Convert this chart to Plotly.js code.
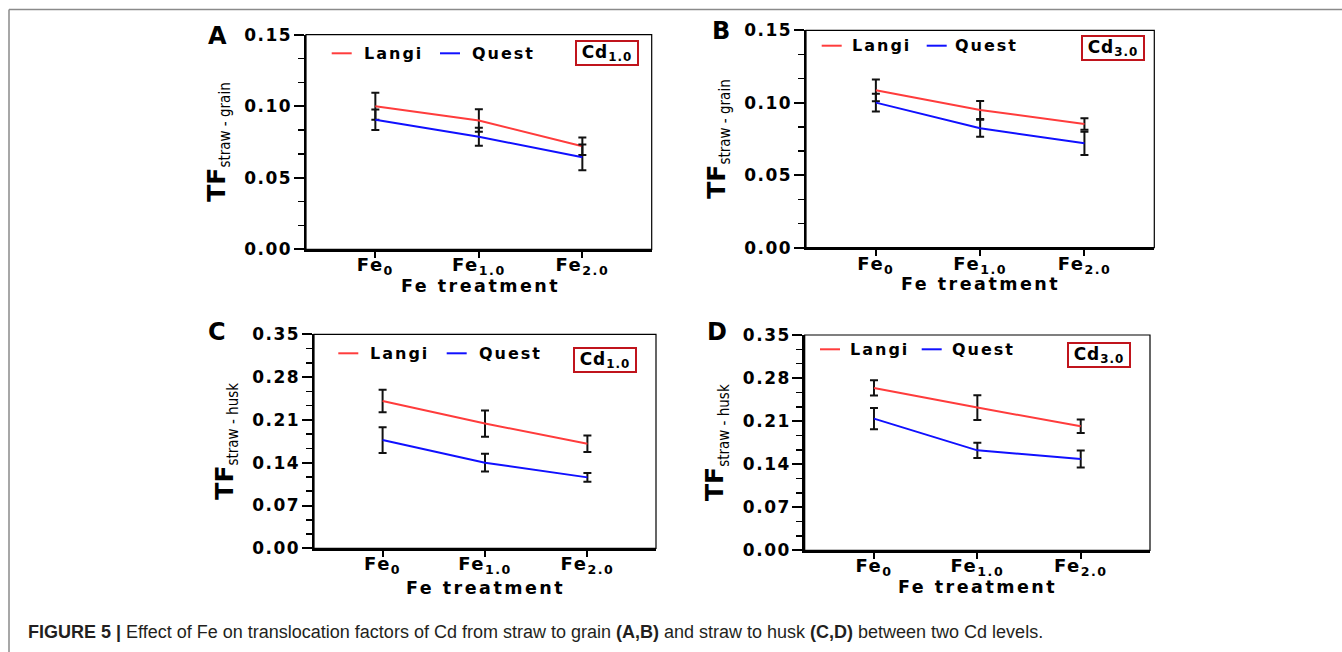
<!DOCTYPE html>
<html>
<head>
<meta charset="utf-8">
<script src="https://cdn.plot.ly/plotly-3.0.1.min.js"></script>
<style>
html,body{margin:0;padding:0;background:#fff;}
#chart{width:1342px;height:652px;}
.xtick text,.ytick text,.x2tick text,.y2tick text,.x3tick text,.y3tick text,.x4tick text,.y4tick text{letter-spacing:1.5px;}
</style>
</head>
<body>
<div id="chart"></div>
<script>
// ---- data ----
const categories = ['Fe0', 'Fe1.0', 'Fe2.0'];
const tickLabels = ['Fe<sub>0</sub>', 'Fe<sub>1.0</sub>', 'Fe<sub>2.0</sub>'];

// A: straw - grain, Cd1.0
const A_langi = [0.100, 0.090, 0.072];
const A_langi_err = [0.0095, 0.0079, 0.0061];
const A_quest = [0.0906, 0.0787, 0.0643];
const A_quest_err = [0.0072, 0.0063, 0.0090];
// B: straw - grain, Cd3.0
const B_langi = [0.1086, 0.0950, 0.0854];
const B_langi_err = [0.0075, 0.0062, 0.0040];
const B_quest = [0.1001, 0.0824, 0.0720];
const B_quest_err = [0.0062, 0.0058, 0.0080];
// C: straw - husk, Cd1.0
const C_langi = [0.241, 0.204, 0.171];
const C_langi_err = [0.0185, 0.0215, 0.0134];
const C_quest = [0.177, 0.140, 0.116];
const C_quest_err = [0.021, 0.0145, 0.0071];
// D: straw - husk, Cd3.0
const D_langi = [0.264, 0.232, 0.2015];
const D_langi_err = [0.0125, 0.020, 0.011];
const D_quest = [0.214, 0.1625, 0.1485];
const D_quest_err = [0.0173, 0.0125, 0.0138];

const seriesNames = ['Langi', 'Quest'];
const panelLetters = ['A', 'B', 'C', 'D'];
const cdLabels = ['Cd<sub>1.0</sub>', 'Cd<sub>3.0</sub>', 'Cd<sub>1.0</sub>', 'Cd<sub>3.0</sub>'];
const yTitleSubs = ['straw - grain', 'straw - grain', 'straw - husk', 'straw - husk'];
const xTitle = 'Fe treatment';
const caption = '<b>FIGURE 5 |</b> Effect of Fe on translocation factors of Cd from straw to grain <b>(A,B)</b> and straw to husk <b>(C,D)</b> between two Cd levels.';

// ---- styling ----
const W = 1342, H = 652;
const px = x => x / W;
const py = y => 1 - y / H;
const FAM = 'DejaVu Sans, Arial, sans-serif';
const RED = '#ff3c3c';
const BLUE = '#1010ff';

function trace(y, err, color, name, xa, ya) {
  return {
    type: 'scatter', mode: 'lines', name: name,
    x: categories, y: y,
    line: {color: color, width: 2},
    error_y: {type: 'data', array: err, visible: true, color: '#111', thickness: 2, width: 4},
    xaxis: xa, yaxis: ya, showlegend: false, hoverinfo: 'skip'
  };
}

const data = [
  trace(A_langi, A_langi_err, RED, seriesNames[0], 'x', 'y'),
  trace(A_quest, A_quest_err, BLUE, seriesNames[1], 'x', 'y'),
  trace(B_langi, B_langi_err, RED, seriesNames[0], 'x2', 'y2'),
  trace(B_quest, B_quest_err, BLUE, seriesNames[1], 'x2', 'y2'),
  trace(C_langi, C_langi_err, RED, seriesNames[0], 'x3', 'y3'),
  trace(C_quest, C_quest_err, BLUE, seriesNames[1], 'x3', 'y3'),
  trace(D_langi, D_langi_err, RED, seriesNames[0], 'x4', 'y4'),
  trace(D_quest, D_quest_err, BLUE, seriesNames[1], 'x4', 'y4')
];

function xax(domain, anchor) {
  return {
    domain: domain, anchor: anchor, type: 'category', range: [-0.67, 2.67],
    tickmode: 'array', tickvals: categories, ticktext: tickLabels,
    ticks: 'outside', ticklen: 6, tickwidth: 2, tickcolor: '#000',
    ticklabelstandoff: -8,
    showline: true, linewidth: 2.5, linecolor: '#000',
    showgrid: false, zeroline: false, fixedrange: true,
    tickfont: {family: FAM, size: 18, color: '#000', weight: 'bold'}
  };
}
function yax(domain, anchor, range, dtick, sub) {
  return {
    domain: domain, anchor: anchor, range: range,
    tickmode: 'linear', tick0: 0, dtick: dtick, tickformat: '.2f',
    ticks: 'outside', ticklen: 10, tickwidth: 2, tickcolor: '#000',
    ticklabelstandoff: -2,
    minor: {tick0: 0, dtick: dtick / 3, ticks: 'outside', ticklen: 6, tickwidth: 1.5, tickcolor: '#000', showgrid: false},
    showline: true, linewidth: 2.5, linecolor: '#000',
    showgrid: false, zeroline: false, fixedrange: true,
    tickfont: {family: FAM, size: 17, color: '#000', weight: 'bold'},
    title: {text: 'TF<sub><span style="font-family:\'Liberation Sans Narrow\',\'DejaVu Sans Condensed\',sans-serif;font-weight:normal;font-size:15px">' + sub + '</span></sub>',
            font: {family: FAM, size: 25, color: '#000', weight: 'bold'}, standoff: 12}
  };
}

const dom = {
  A: {x: [px(306), px(651.7)], y: [py(249.3), py(34.7)]},
  B: {x: [px(806), px(1154.3)], y: [py(247.7), py(30.3)]},
  C: {x: [px(314), px(656)], y: [py(548.3), py(334.3)]},
  D: {x: [px(804.7), px(1150)], y: [py(550.3), py(335)]}
};

const shapes = [];
const annotations = [];
// plot frames (thin top/right)
[['x', 'y'], ['x2', 'y2'], ['x3', 'y3'], ['x4', 'y4']].forEach(([xa, ya]) => {
  shapes.push({type: 'rect', xref: xa + ' domain', yref: ya + ' domain', x0: 0, x1: 1, y0: 0, y1: 1,
               line: {color: '#000', width: 1.2}, layer: 'above'});
});
// page border (grey top and left)
shapes.push({type: 'line', xref: 'paper', yref: 'paper', x0: px(9), x1: 1, y0: py(9.5), y1: py(9.5), line: {color: '#8a8a8a', width: 1.5}});
shapes.push({type: 'line', xref: 'paper', yref: 'paper', x0: px(9), x1: px(9), y0: py(9.5), y1: 0, line: {color: '#8a8a8a', width: 1.5}});

// x-axis titles
const xTitlePos = [{x: 480.8, y: 285.5}, {x: 980, y: 283.5}, {x: 485, y: 587.5}, {x: 977.5, y: 586.5}];
xTitlePos.forEach(p => {
  annotations.push({xref: 'paper', yref: 'paper', x: px(p.x), y: py(p.y), xanchor: 'center', yanchor: 'middle', showarrow: false,
    text: '<span style="letter-spacing:2.5px">' + xTitle + '</span>', font: {family: FAM, size: 17.5, color: '#000', weight: 'bold'}});
});

// manual legends
const legendPos = [
  {ry: 53.3, r0: 331.7, rt: 361.7, b0: 440, bt: 470},
  {ry: 45.7, r0: 821.7, rt: 850, b0: 926.7, bt: 953.3},
  {ry: 353.3, r0: 338.3, rt: 368.3, b0: 446.7, bt: 476.7},
  {ry: 349.3, r0: 820, rt: 848.3, b0: 921.7, bt: 950}
];
legendPos.forEach(p => {
  shapes.push({type: 'line', xref: 'paper', yref: 'paper', x0: px(p.r0), x1: px(p.r0 + 20), y0: py(p.ry), y1: py(p.ry), line: {color: RED, width: 2}});
  shapes.push({type: 'line', xref: 'paper', yref: 'paper', x0: px(p.b0), x1: px(p.b0 + 20), y0: py(p.ry), y1: py(p.ry), line: {color: BLUE, width: 2}});
  annotations.push({xref: 'paper', yref: 'paper', x: px(p.rt), y: py(p.ry), xanchor: 'left', yanchor: 'middle', showarrow: false,
    text: '<span style="letter-spacing:2px">' + seriesNames[0] + '</span>', font: {family: FAM, size: 16, color: '#000', weight: 'bold'}});
  annotations.push({xref: 'paper', yref: 'paper', x: px(p.bt), y: py(p.ry), xanchor: 'left', yanchor: 'middle', showarrow: false,
    text: '<span style="letter-spacing:2px">' + seriesNames[1] + '</span>', font: {family: FAM, size: 16, color: '#000', weight: 'bold'}});
});

// Cd boxes
const cdPos = [
  {x: 607.2, y: 52.5}, {x: 1112.5, y: 47.7}, {x: 605, y: 360.3}, {x: 1099.2, y: 355}
];
cdPos.forEach((p, i) => {
  annotations.push({xref: 'paper', yref: 'paper', x: px(p.x), y: py(p.y), xanchor: 'center', yanchor: 'middle', showarrow: false,
    text: '<span style="letter-spacing:1px">' + cdLabels[i] + '</span>', font: {family: FAM, size: 17, color: '#000', weight: 'bold'},
    bordercolor: '#c0141c', borderwidth: 2, borderpad: 1, bgcolor: '#fff', width: 58, height: 20, align: 'center', valign: 'middle'});
});

// panel letters
const letterPos = [{x: 217, y: 36}, {x: 721, y: 31}, {x: 217, y: 332}, {x: 717, y: 332}];
letterPos.forEach((p, i) => {
  annotations.push({xref: 'paper', yref: 'paper', x: px(p.x), y: py(p.y), xanchor: 'center', yanchor: 'middle', showarrow: false,
    text: panelLetters[i], font: {family: FAM, size: 24, color: '#000', weight: 'bold'}});
});

// caption
annotations.push({xref: 'paper', yref: 'paper', x: px(26), y: py(632), xanchor: 'left', yanchor: 'middle', showarrow: false,
  text: caption, font: {family: 'Liberation Sans, Arial, sans-serif', size: 18, color: '#231f20'}});

const layout = {
  width: W, height: H,
  margin: {l: 0, r: 0, t: 0, b: 0},
  paper_bgcolor: '#fff', plot_bgcolor: '#fff',
  showlegend: false,
  xaxis: xax(dom.A.x, 'y'),
  yaxis: yax(dom.A.y, 'x', [0, 0.15], 0.05, yTitleSubs[0]),
  xaxis2: xax(dom.B.x, 'y2'),
  yaxis2: yax(dom.B.y, 'x2', [0, 0.15], 0.05, yTitleSubs[1]),
  xaxis3: xax(dom.C.x, 'y3'),
  yaxis3: yax(dom.C.y, 'x3', [0, 0.35], 0.07, yTitleSubs[2]),
  xaxis4: xax(dom.D.x, 'y4'),
  yaxis4: yax(dom.D.y, 'x4', [0, 0.35], 0.07, yTitleSubs[3]),
  shapes: shapes,
  annotations: annotations
};

Plotly.newPlot('chart', data, layout, {staticPlot: true, displayModeBar: false});
</script>
</body>
</html>
